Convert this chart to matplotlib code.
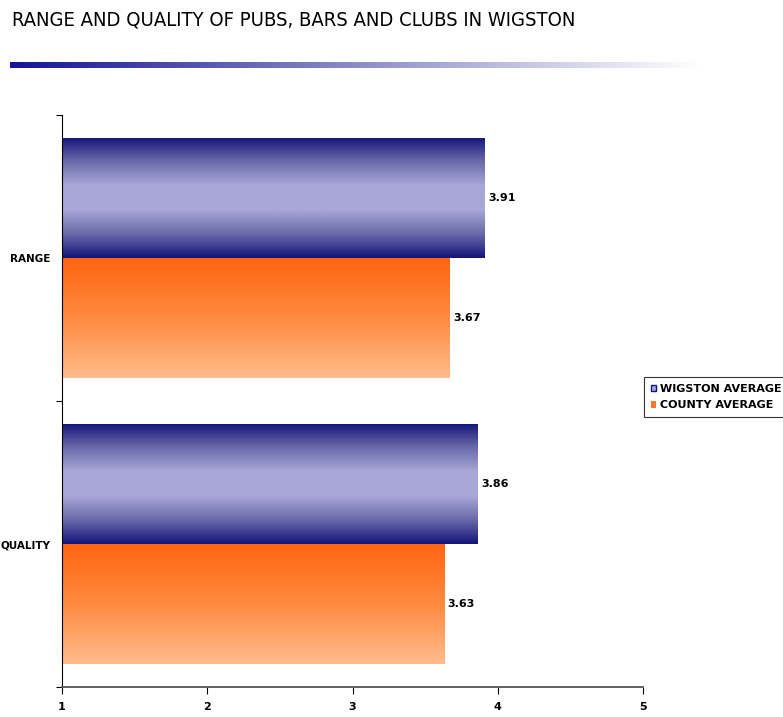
import matplotlib
matplotlib.use('Agg')
import matplotlib.pyplot as plt
import numpy as np
from matplotlib.colors import LinearSegmentedColormap
from matplotlib.patches import Patch

categories = ['RANGE', 'QUALITY']
wigston = [3.91, 3.86]
county = [3.67, 3.63]
series_names = ['WIGSTON AVERAGE', 'COUNTY AVERAGE']
xticks = [1, 2, 3, 4, 5]

W, H = 783, 717
fig = plt.figure(figsize=(W / 100, H / 100), dpi=100)

# title
fig.text(12 / W, 1 - 20 / H, 'RANGE AND QUALITY OF PUBS, BARS AND CLUBS IN WIGSTON',
         family=['DejaVu Sans'], fontstretch='condensed', fontsize=14.5,
         ha='left', va='center', color='black')

# gradient rule under title
lax = fig.add_axes([10 / W, 1 - 68 / H, 690 / W, 6 / H])
rule = LinearSegmentedColormap.from_list('rule', ['#141494', '#8c8cc8', '#ffffff'])
lax.imshow(np.linspace(0, 1, 256)[None, :], aspect='auto', cmap=rule)
lax.axis('off')

ax = fig.add_axes([62 / W, 1 - 687 / H, 581 / W, 572 / H])

blue_cm = LinearSegmentedColormap.from_list('b', ['#14147a', '#6a6aaa', '#a8a8d8', '#a8a8d8', '#6a6aaa', '#14147a'])
orange_cm = LinearSegmentedColormap.from_list('o', ['#ff6410', '#ff8a40', '#ffbc8c'])

pos = np.arange(len(categories))
h = 0.42

def grad_bars(vals, offs, cmap):
    bars = ax.barh(pos + offs, np.array(vals) - 1, height=h, left=1,
                   facecolor='none', edgecolor='none')
    for b in bars:
        x0, y0 = b.get_x(), b.get_y()
        im = ax.imshow(np.linspace(0, 1, 256)[:, None], aspect='auto', cmap=cmap,
                       extent=(x0, x0 + b.get_width(), y0 + b.get_height(), y0),
                       origin='upper', zorder=2)
        im.set_clip_path(b)
    return bars

bw = grad_bars(wigston, -h / 2, blue_cm)
bc = grad_bars(county, h / 2, orange_cm)

for bars, vals in [(bw, wigston), (bc, county)]:
    for b, v in zip(bars, vals):
        ax.text(v + 0.025, b.get_y() + b.get_height() / 2, f'{v:.2f}',
                fontsize=8, fontweight='bold', va='center', ha='left')

ax.set_xlim(1, 5)
ax.set_ylim(1.5, -0.5)
ax.set_xticks(xticks)
ax.set_xticklabels([str(t) for t in xticks], fontsize=8, fontweight='bold')
ax.set_yticks([-0.5, 0.5, 1.5])
ax.set_yticklabels([])
ax.set_yticks(pos, minor=True)
ax.set_yticklabels(categories, minor=True, fontsize=7.5, fontweight='bold')
ax.tick_params(axis='y', which='minor', length=0, pad=8.5)
ax.tick_params(axis='y', which='major', length=4, direction='out')
ax.tick_params(axis='x', length=5, direction='out', pad=6)
ax.spines['top'].set_visible(False)
ax.spines['right'].set_visible(False)
ax.spines['bottom'].set_color('#555555')
ax.spines['bottom'].set_linewidth(1.3)

handles = [Patch(facecolor='#a8a8d8', edgecolor='#14147a'),
           Patch(facecolor='#ff7a30', edgecolor='none')]
leg = fig.legend(handles, series_names, loc='upper left',
                 bbox_to_anchor=(644 / W, 1 - 377 / H), prop={'size': 8, 'weight': 'bold'},
                 frameon=True, fancybox=False, edgecolor='black', handlelength=0.5,
                 handleheight=0.5, handletextpad=0.3, borderpad=0.6, labelspacing=0.6,
                 borderaxespad=0)
leg.get_frame().set_linewidth(0.8)

fig.savefig('out.png', dpi=100)
